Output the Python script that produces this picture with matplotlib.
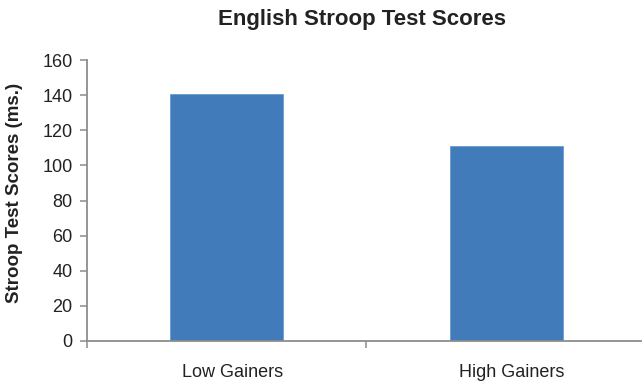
import matplotlib

matplotlib.use("Agg")

import matplotlib.pyplot as plt

groups = ["Low Gainers", "High Gainers"]
scores = [140.5, 111.0]
y_ticks = [0, 20, 40, 60, 80, 100, 120, 140, 160]

plt.rcParams["font.family"] = ["Liberation Sans", "DejaVu Sans"]

axis_grey = "#8c8c8c"
bar_blue = "#427bba"
text_dark = "#222222"

fig = plt.figure(figsize=(6.42, 3.83), dpi=100)
# the plot area runs a little past the right edge of the canvas
ax = fig.add_axes([0.1355, 0.1097, 0.8707, 0.7336])

positions = list(range(len(groups)))
ax.bar(positions, scores, width=0.404, color=bar_blue, edgecolor="#6a9bd1", linewidth=0.6)

ax.set_xlim(-0.5, len(groups) - 0.5)
ax.set_ylim(0, 160)
ax.set_yticks(y_ticks)
ax.set_yticklabels([str(v) for v in y_ticks], fontsize=13, color=text_dark)

ax.set_xticks([p + 0.02 for p in positions])
ax.set_xticklabels(groups, fontsize=13, color=text_dark)
ax.tick_params(axis="x", which="major", length=0, pad=16.5)
ax.set_xticks([p - 0.5 for p in positions] + [len(groups) - 0.5], minor=True)
ax.tick_params(axis="x", which="minor", length=5, color=axis_grey, width=1.1)
ax.tick_params(axis="y", length=5, color=axis_grey, width=1.1, pad=5.5)

for side in ("top", "right"):
    ax.spines[side].set_visible(False)
for side in ("left", "bottom"):
    ax.spines[side].set_color(axis_grey)
    ax.spines[side].set_linewidth(1.3)

fig.text(14.5 / 642, 0.495, "Stroop Test Scores (ms.)", rotation=90,
         ha="center", va="center", fontsize=13.5, fontweight="bold", color=text_dark)
fig.text(362 / 642, 0.936, "English Stroop Test Scores", ha="center", va="baseline",
         fontsize=16, fontweight="bold", color=text_dark)

fig.savefig("out.png", dpi=100)
